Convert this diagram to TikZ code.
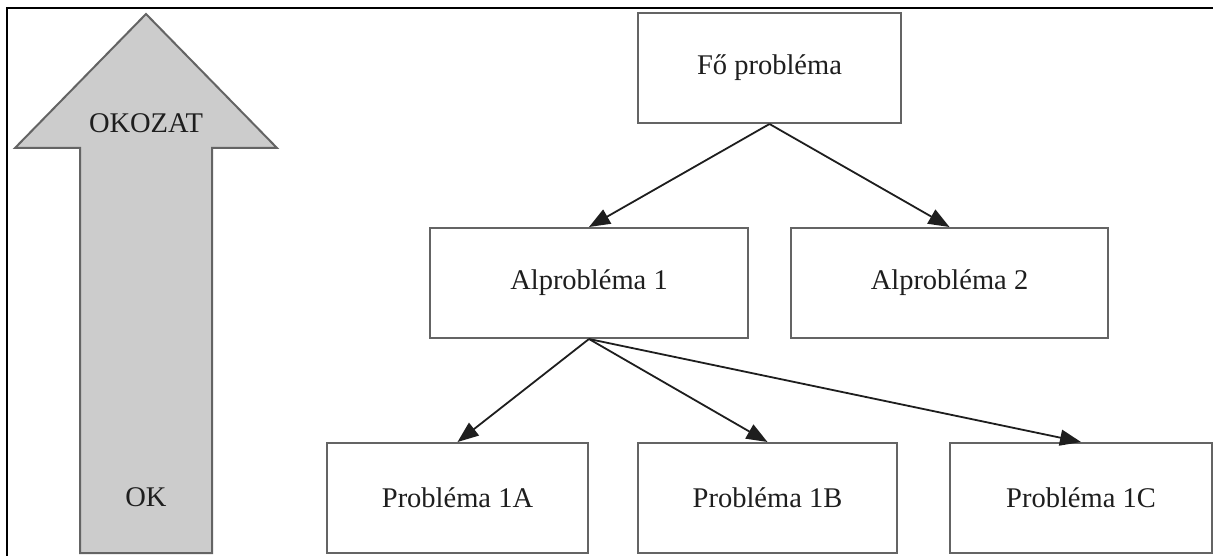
\documentclass[tikz,border=0pt]{standalone}
\usepackage{fontspec}
\setmainfont{Liberation Serif}
\usetikzlibrary{arrows.meta}
\definecolor{boxline}{RGB}{100,100,100}
\definecolor{arrline}{RGB}{30,30,30}
\definecolor{txt}{RGB}{30,30,30}
\definecolor{bigfill}{RGB}{204,204,204}
\begin{document}
\begin{tikzpicture}[x=1pt,y=-1pt,
  probbox/.style={draw=boxline,line width=2pt,fill=white,inner sep=0pt,
    minimum height=110pt,text=txt,font=\fontsize{28.5}{34}\selectfont},
  conn/.style={draw=arrline,line width=1.8pt,-{Triangle[length=21pt,width=16pt]}},
  bigtxt/.style={text=txt,inner sep=0pt,font=\fontsize{28.5}{34}\selectfont}]
\useasboundingbox (0,0) rectangle (1213,556);
\fill[white] (0,0) rectangle (1213,556);
% frame
\draw[line width=2.2pt,black] (7,556) -- (7,8) -- (1213,8);
% big arrow
\draw[fill=bigfill,draw=boxline,line width=2pt,line join=miter]
  (80,553) -- (80,148) -- (15,148) -- (146,14) -- (277,148) -- (212,148) -- (212,553) -- cycle;
\node[bigtxt] (okozat) at (146,123) {OKOZAT};
\node[bigtxt] (ok) at (146,497) {OK};
% boxes
\node[probbox,minimum width=263pt] (fo) at (769.5,68) {Fő probléma};
\node[probbox,minimum width=318pt] (a1) at (589,283) {Alprobléma 1};
\node[probbox,minimum width=317pt] (a2) at (949.5,283) {Alprobléma 2};
\node[probbox,minimum width=261pt] (p1a) at (457.5,498) {Probléma 1A};
\node[probbox,minimum width=259pt] (p1b) at (767.5,498) {Probléma 1B};
\node[probbox,minimum width=262pt] (p1c) at (1081,498) {Probléma 1C};
% connectors
\draw[conn] (fo.south) -- (a1.north);
\draw[conn] (fo.south) -- (a2.north);
\draw[conn] (a1.south) -- (p1a.north);
\draw[conn] (a1.south) -- (p1b.north);
\draw[conn] (a1.south) -- (p1c.north);
\end{tikzpicture}
\end{document}
